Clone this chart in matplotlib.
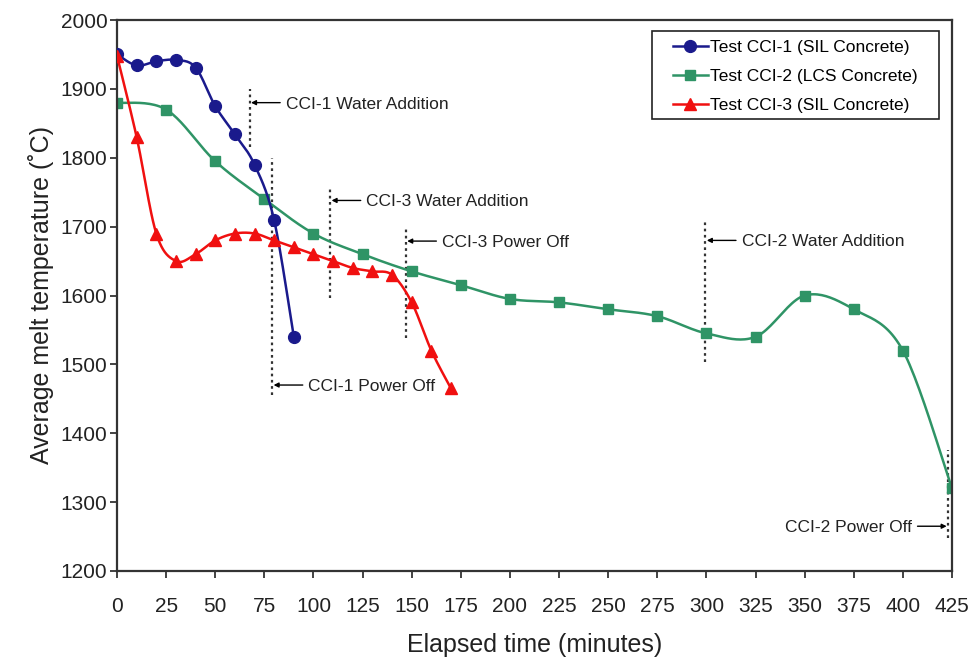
import numpy as np
import matplotlib
matplotlib.use('Agg')
import matplotlib.pyplot as plt
from matplotlib.patches import Rectangle

plt.rcParams['font.family'] = ['Liberation Sans', 'DejaVu Sans']

# ---- data ----
t1 = [0, 10, 20, 30, 40, 50, 60, 70, 80, 90]
T1 = [1950, 1934, 1940, 1942, 1931, 1875, 1834, 1790, 1709, 1540]

t2 = [0, 25, 50, 75, 100, 125, 150, 175, 200, 225, 250, 275, 300, 325, 350, 375, 400, 425]
T2 = [1880, 1870, 1795, 1740, 1690, 1660, 1635, 1615, 1595, 1590, 1580, 1570, 1545, 1540,
      1600, 1580, 1520, 1320]

t3 = [0, 10, 20, 30, 40, 50, 60, 70, 80, 90, 100, 110, 120, 130, 140, 150, 160, 170]
T3 = [1948, 1830, 1690, 1650, 1660, 1680, 1690, 1690, 1680, 1670, 1660, 1650, 1640, 1635,
      1630, 1590, 1520, 1465]

series_labels = ['Test CCI-1 (SIL Concrete)', 'Test CCI-2 (LCS Concrete)', 'Test CCI-3 (SIL Concrete)']

# events: time, y-bottom, y-top, arrow y, label, side
event_t = [67.5, 79, 108.5, 147, 299.5, 423]
event_ylo = [1815, 1455, 1597, 1539, 1503, 1248]
event_yhi = [1900, 1800, 1756, 1697, 1710, 1375]
event_ya = [1880, 1470, 1738, 1679, 1680, 1265]
event_labels = ['CCI-1 Water Addition', 'CCI-1 Power Off', 'CCI-3 Water Addition',
                'CCI-3 Power Off', 'CCI-2 Water Addition', 'CCI-2 Power Off']
event_side = ['r', 'r', 'r', 'r', 'r', 'l']

xticks = list(range(0, 426, 25))
yticks = list(range(1200, 2001, 100))


def smooth(x, y, n=24):
    P = np.column_stack([np.asarray(x, float), np.asarray(y, float)])
    out = [P[0]]
    for i in range(len(P) - 1):
        p0 = P[i - 1] if i > 0 else P[i]
        p1, p2 = P[i], P[i + 1]
        p3 = P[i + 2] if i + 2 < len(P) else P[i + 1]
        c1 = p1 + (p2 - p0) / 6.0
        c2 = p2 - (p3 - p1) / 6.0
        s = np.linspace(0, 1, n)[1:, None]
        B = (1 - s) ** 3 * p1 + 3 * (1 - s) ** 2 * s * c1 + 3 * (1 - s) * s ** 2 * c2 + s ** 3 * p2
        out.extend(B)
    out = np.array(out)
    return out[:, 0], out[:, 1]


fig = plt.figure(figsize=(9.76, 6.63), dpi=100)
ax = fig.add_axes([117 / 976, 1 - 571 / 663, (952 - 117) / 976, (571 - 20) / 663])

blue = '#1a1a8c'
green = '#2f9466'
red = '#f01010'

styles = [
    (t1, T1, blue, 'o', 8.5, 3),
    (t2, T2, green, 's', 7.5, 2),
    (t3, T3, red, '^', 8.5, 4),
]
handles = []
for (x, y, c, m, ms, z), lab in zip(styles, series_labels):
    sx, sy = smooth(x, y)
    ax.plot(sx, sy, color=c, lw=1.8, zorder=z)
    ax.plot(x, y, ls='none', marker=m, ms=ms, color=c, mec=c, zorder=z)
    h, = ax.plot([], [], color=c, lw=1.8, marker=m, ms=ms, label=lab)
    handles.append(h)

# event markers
for t, ylo, yhi, ya, lab, side in zip(event_t, event_ylo, event_yhi, event_ya, event_labels, event_side):
    ax.plot([t, t], [ylo, yhi], color='#333333', ls=(0, (1.2, 1.6)), lw=1.6, zorder=1)
    sgn = 1 if side == 'r' else -1
    ax.annotate('', xy=(t, ya), xytext=(sgn * 22, 0), textcoords='offset points',
                arrowprops=dict(arrowstyle='-|>', color='black', lw=1.0,
                                mutation_scale=7, shrinkA=0, shrinkB=1))
    ax.annotate(lab, xy=(t, ya), xytext=(sgn * 26, 0), textcoords='offset points',
                ha='left' if side == 'r' else 'right', va='center_baseline',
                fontsize=12.5, color='#222222')

ax.set_xlim(0, 425)
ax.set_ylim(1200, 2000)
ax.set_xticks(xticks)
ax.set_yticks(yticks)
ax.tick_params(direction='out', length=5, width=1.2, labelsize=15, colors='#222222')
ax.tick_params(axis='x', pad=14)
ax.tick_params(axis='y', pad=2)
for sp in ax.spines.values():
    sp.set_color('#333333')
    sp.set_linewidth(1.6)

ax.set_xlabel('Elapsed time (minutes)', fontsize=18, color='#222222', labelpad=12)
ax.set_ylabel('Average melt temperature (˚C)', fontsize=18, color='#222222', labelpad=5)

leg = ax.legend(handles=handles, loc='upper left', bbox_to_anchor=((673 - 117) / 835, 1 - (40 - 20) / 551),
                borderaxespad=0, fontsize=12.5, frameon=False,
                handlelength=2.0, handletextpad=0.15, labelspacing=0.8, borderpad=0)
ax.add_patch(Rectangle(((652 - 117) / 835, 1 - (119 - 20) / 551),
                       (939 - 652) / 835, (119 - 31) / 551,
                       transform=ax.transAxes, fill=True, facecolor='white',
                       edgecolor='#222222', lw=1.2, zorder=5))
leg.set_zorder(6)

fig.savefig('out.png', dpi=100)
